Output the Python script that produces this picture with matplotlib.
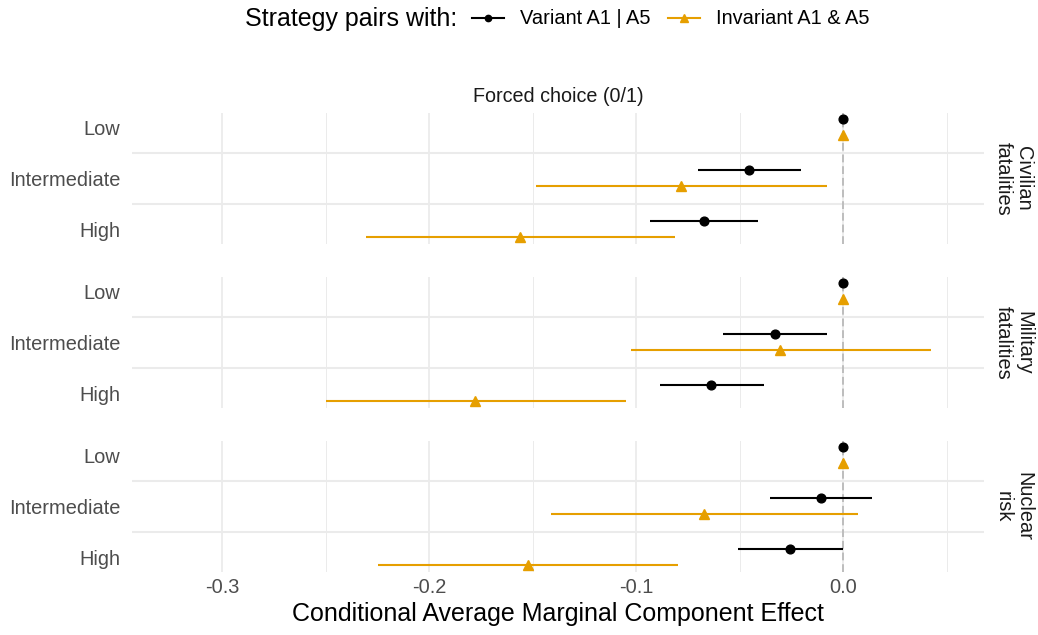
import matplotlib
matplotlib.use("Agg")
import matplotlib.pyplot as plt
from matplotlib.lines import Line2D
import numpy as np

plt.rcParams["font.family"] = ["Liberation Sans", "DejaVu Sans"]

# ---- data -------------------------------------------------------------
levels = ["Low", "Intermediate", "High"]
attributes = ["Civilian\nfatalities", "Military\nfatalities", "Nuclear\nrisk"]
facet_title = "Forced choice (0/1)"
x_ticks = [-0.3, -0.2, -0.1, 0.0]
x_tick_labels = ["-0.3", "-0.2", "-0.1", "0.0"]

variant_est = [[0.0, -0.0455, -0.0674],
               [0.0, -0.0330, -0.0636],
               [0.0, -0.0108, -0.0258]]
variant_lo = [[0.0, -0.0702, -0.0933],
              [0.0, -0.0580, -0.0885],
              [0.0, -0.0352, -0.0508]]
variant_hi = [[0.0, -0.0203, -0.0411],
              [0.0, -0.0078, -0.0380],
              [0.0, 0.0142, 0.0000]]

invariant_est = [[0.0, -0.0783, -0.1560],
                 [0.0, -0.0303, -0.1780],
                 [0.0, -0.0674, -0.1520]]
invariant_lo = [[0.0, -0.1485, -0.2306],
                [0.0, -0.1024, -0.2500],
                [0.0, -0.1410, -0.2245]]
invariant_hi = [[0.0, -0.0078, -0.0813],
                [0.0, 0.0425, -0.1050],
                [0.0, 0.0072, -0.0797]]

series = [
    ("Variant A1 | A5", "#000000", "o", 6.3, -0.16,
     variant_est, variant_lo, variant_hi),
    ("Invariant A1 & A5", "#E69F00", "^", 7.8, 0.16,
     invariant_est, invariant_lo, invariant_hi),
]

# ---- figure -----------------------------------------------------------
W, H = 1038, 635
fig = plt.figure(figsize=(W / 100, H / 100), dpi=100)

GRID = "#EBEBEB"
TICK_COL = "#4D4D4D"
panel_left, panel_right = 132, 984
panel_tops = [113, 277, 441]
panel_h = 131

y_pos = np.arange(1, len(levels) + 1)
axes = []
for i, attr in enumerate(attributes):
    top = panel_tops[i]
    ax = fig.add_axes([panel_left / W, 1 - (top + panel_h) / H,
                       (panel_right - panel_left) / W, panel_h / H])
    axes.append(ax)
    ax.set_xlim(-0.3435, 0.0681)
    ax.set_ylim(3.29, 0.72)
    for s in ax.spines.values():
        s.set_visible(False)

    ax.set_xticks(x_ticks)
    ax.set_xticks([-0.25, -0.15, -0.05, 0.05], minor=True)
    ax.set_yticks(y_pos)
    ax.set_yticks([1.5, 2.5], minor=True)
    ax.set_yticklabels(levels)
    ax.tick_params(axis="both", which="both", length=0)
    ax.tick_params(axis="y", labelsize=14.4, labelcolor=TICK_COL, pad=8.5)
    ax.tick_params(axis="y", which="minor", labelleft=False)
    if i == len(attributes) - 1:
        ax.set_xticklabels(x_tick_labels)
        ax.tick_params(axis="x", labelsize=14.4, labelcolor=TICK_COL, pad=4)
        ax.set_xlabel("Conditional Average Marginal Component Effect",
                      fontsize=18, labelpad=4)
    else:
        ax.tick_params(axis="x", labelbottom=False)

    ax.grid(True, axis="x", which="major", color=GRID, lw=1.25, zorder=0)
    ax.grid(True, axis="x", which="minor", color=GRID, lw=0.7, zorder=0)
    ax.grid(True, axis="y", which="minor", color=GRID, lw=1.5, zorder=0)
    ax.grid(False, axis="y", which="major")
    ax.set_axisbelow(True)

    ax.axvline(0, color="#BDBDBD", lw=1.4, ls=(0, (4, 2)), zorder=1)

    for label, color, marker, ms, offset, est, lo, hi in series:
        e = np.array(est[i])
        l = np.array(lo[i])
        h = np.array(hi[i])
        ax.errorbar(e, y_pos + offset, xerr=[e - l, h - e], fmt=marker,
                    color=color, ecolor=color, elinewidth=1.5, ms=ms,
                    capsize=0, zorder=3)

    # row strip on the right
    ax.text(1.0345, 0.5, attr, transform=ax.transAxes, rotation=-90,
            ha="center", va="center", fontsize=14.4, color="#1A1A1A",
            linespacing=1.12)

# column strip above the top panel
axes[0].text(0.5, 1.0 + 17 / panel_h, facet_title,
             transform=axes[0].transAxes, ha="center", va="center",
             fontsize=14.2, color="#1A1A1A")

# ---- legend -----------------------------------------------------------
leg_y = 1 - 19 / H
fig.text(245 / W, leg_y, "Strategy pairs with:", fontsize=18,
         ha="left", va="center")
handles = [Line2D([], [], color=c, marker=m, lw=1.5, ms=ms * 0.72)
           for _, c, m, ms, *_ in series]
fig.legend(handles, [s[0] for s in series], loc="center left",
           bbox_to_anchor=(472 / W, leg_y), ncol=2, frameon=False,
           fontsize=14.4, handlelength=1.6, handletextpad=0.8,
           columnspacing=0.85, borderpad=0, borderaxespad=0)

fig.savefig("out.png", dpi=100)
